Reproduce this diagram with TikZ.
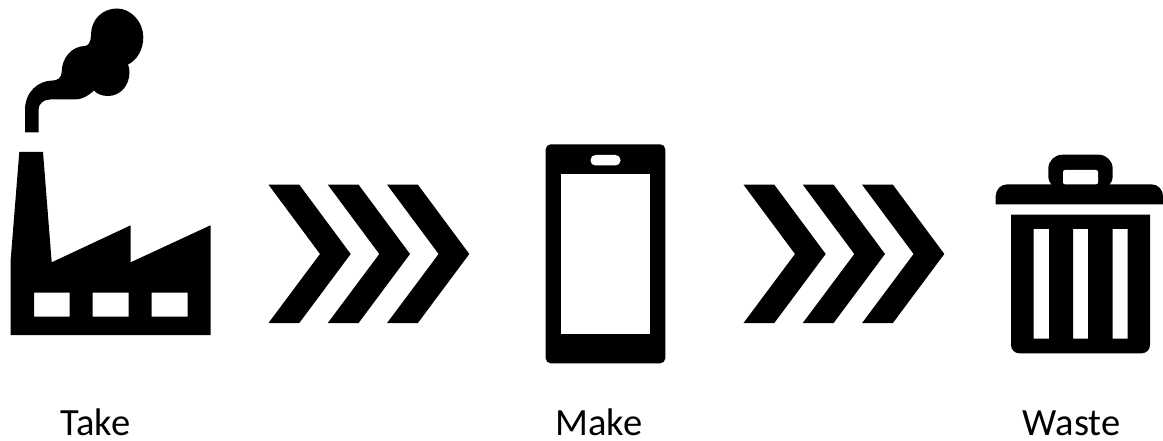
\documentclass[tikz,border=0pt]{standalone}
\usepackage{fontspec}
\setmainfont{Carlito}
\tikzset{
  icon/.style={fill=black,draw=none,even odd rule},
  lbl/.style={anchor=base,inner sep=0pt,font=\fontsize{38.5}{44}\selectfont,text=black}
}
\begin{document}
\begin{tikzpicture}[x=1pt,y=-1pt]
\useasboundingbox (0,0) rectangle (1163,441);
% factory
\fill[icon] (19.3,152) -- (43,152) -- (51.7,262.3) -- (130.7,225.3) -- (130.7,262.3) -- (210.5,225.3) -- (210.5,335) -- (10.5,335) -- (10.5,262) -- cycle
  (34,292.5) rectangle (69.5,316.5)
  (92.5,292.5) rectangle (128.5,316.5)
  (151.5,292.5) rectangle (187.5,316.5);
% smoke
\fill[icon] (25,132.5) -- (25,110) .. controls (25,92) and (38,80.5) .. (53,80.5)
  .. controls (57,80.5) and (61.7,78) .. (61.7,72)
  .. controls (61.7,58) and (72,46) .. (85,46)
  .. controls (88,46) and (91,42) .. (91,35)
  .. controls (91,20) and (102,8.5) .. (117,8.5)
  .. controls (131,8.5) and (143.3,22) .. (143.3,37)
  .. controls (143.3,50) and (137,60) .. (128,64.5)
  .. controls (129,67) and (129.5,69) .. (129.5,72)
  .. controls (129.5,86) and (120,96) .. (108,96)
  .. controls (102,96) and (97,94) .. (94,90.5)
  .. controls (88,96) and (82,99.5) .. (75,99.5)
  -- (50,99.5) .. controls (43,99.5) and (38.5,104) .. (38.5,110) -- (38.5,132.5) -- cycle;
% chevrons
\foreach \ox in {0,475}{
  \foreach \dx in {0,59.3,118.6}{
    \fill[icon,xshift=\ox+\dx] (268.5,184.7) -- (299.3,184.7) -- (350.7,254) -- (299.3,323) -- (268.5,323) -- (320,254) -- cycle;
  }
}
% phone
\fill[icon,rounded corners=5pt] (545.7,144.3) rectangle (665.3,363.3);
\fill[white] (561,174.5) rectangle (650,333.5);
\fill[white,rounded corners=5pt] (590.5,155) rectangle (620.5,165.5);
% bin
\fill[icon] (995.7,204.3) -- (995.7,196) arc[start angle=180,end angle=270,radius=11.7] -- (1151.3,184.3) arc[start angle=270,end angle=360,radius=11.7] -- (1163,204.3) -- cycle;
\fill[icon,rounded corners=14pt] (1048.3,190) -- (1048.3,154.7) -- (1112.7,154.7) -- (1112.7,190) -- cycle;
\fill[white,rounded corners=2pt] (1063,184.3) -- (1063,170) -- (1098,170) -- (1098,184.3) -- cycle;
\fill[icon] (1011,214.7) -- (1150,214.7) -- (1150,345) arc[start angle=0,end angle=90,radius=8.3] -- (1019.3,353.3) arc[start angle=90,end angle=180,radius=8.3] -- cycle
  (1033.5,229) rectangle (1049,338.5)
  (1073,229) rectangle (1088,338.5)
  (1112.5,229) rectangle (1127.5,338.5);
% labels
\node[lbl] (take) at (95.5,435) {Take};
\node[lbl] (make) at (599,435) {Make};
\node[lbl] (waste) at (1071.7,435) {Waste};
\end{tikzpicture}
\end{document}
